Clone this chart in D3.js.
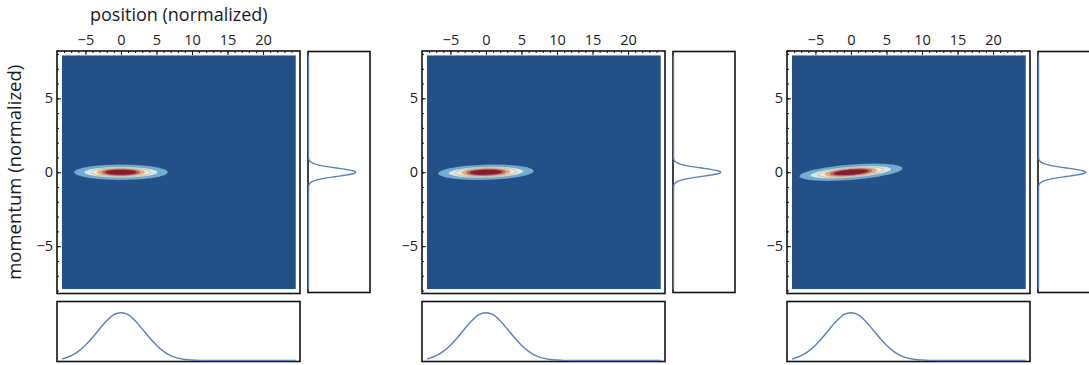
<!DOCTYPE html>
<html><head><meta charset="utf-8">
<script src="https://cdn.jsdelivr.net/npm/d3@7"></script>
<style>
body{margin:0;background:#fff}
svg{display:block}
text{font-family:"Open Sans",sans-serif;fill:#1a1a1a}
</style>
</head><body>
<svg id="chart" width="1089" height="365"></svg>
<script>
// ---------- data ----------
const panels = ["snapshot 1", "snapshot 2", "snapshot 3"];
const xTickValues = [-5, 0, 5, 10, 15, 20];
const yTickValues = [-5, 0, 5];
const xMinorTicks = [-8,-7,-6,-5,-4,-3,-2,-1,0,1,2,3,4,5,6,7,8,9,10,11,12,13,14,15,16,17,18,19,20,21,22,23,24];
const yMinorTicks = [-8,-7,-6,-5,-4,-3,-2,-1,0,1,2,3,4,5,6,7,8];
const axisTitleX = "position (normalized)";
const axisTitleY = "momentum (normalized)";

// position marginal (bottom panels)
const positionGrid    = [-8.3, -7, -6, -5, -4, -3, -2, -1, 0, 1, 2, 3, 4, 5, 6, 7, 8, 9, 10, 11, 12, 24.6];
const positionDensity = [0.03, 0.10, 0.19, 0.32, 0.48, 0.66, 0.83, 0.96, 1.00, 0.96, 0.83, 0.66, 0.48, 0.32, 0.19, 0.10, 0.05, 0.02, 0.01, 0.003, 0, 0];

// momentum marginal (right panels)
const momentumGrid    = [-7.9, -1.2, -1.0, -0.9, -0.8, -0.7, -0.6, -0.5, -0.4, -0.3, -0.2, -0.1, 0, 0.1, 0.2, 0.3, 0.4, 0.5, 0.6, 0.7, 0.8, 0.9, 1.0, 1.2, 7.9];
const momentumDensity = [0, 0, 0.002, 0.006, 0.017, 0.044, 0.10, 0.20, 0.36, 0.56, 0.775, 0.94, 1.0, 0.94, 0.775, 0.56, 0.36, 0.20, 0.10, 0.044, 0.017, 0.006, 0.002, 0, 0];

// contour bands, outer to inner: half-width in position, half-height in momentum
const contourHalfWidth  = [6.6, 5.2, 4.2, 3.3, 2.7, 2.2];
const contourHalfHeight = [0.52, 0.38, 0.31, 0.25, 0.21, 0.17];
// per-panel tilt (momentum per position) and width factor
const panelShear      = [0, 0.012, 0.037];
const panelWidthScale = [1, 1.02, 1.1];

// ---------- styles ----------
const fieldColor = "#245089";
const bandColors = ["#6fafd6", "#d4e9ef", "#f3e7c3", "#e7ae87", "#c9665a", "#8c1b31"];
const curveColor = "#5b80bd";

// ---------- layout ----------
const panelStep = 365;
const frame = {left: 57, right: 300, top: 51, bottom: 293.5};
const rightBox = {left: 308, right: 370, top: 51.5, bottom: 292.5};
const bottomBox = {left: 57, right: 300, top: 301.5, bottom: 361.5};

const svg = d3.select("#chart");

const x = d3.scaleLinear().domain([-9, 25.2]).range([frame.left, frame.right]);
const y = d3.scaleLinear().domain([-8.2, 8.2]).range([frame.bottom, frame.top]);
const yB = d3.scaleLinear().domain([0, 1.234]).range([360.5, bottomBox.top]);
const xR = d3.scaleLinear().domain([0, 1.3]).range([308.5, rightBox.right]);

const defs = svg.append("defs");
defs.append("clipPath").attr("id", "clipField")
  .append("rect").attr("x", x(-8.3)).attr("y", y(7.9))
  .attr("width", x(24.6) - x(-8.3)).attr("height", y(-7.9) - y(7.9));
defs.append("clipPath").attr("id", "clipBottom")
  .append("rect").attr("x", bottomBox.left).attr("y", bottomBox.top)
  .attr("width", bottomBox.right - bottomBox.left).attr("height", bottomBox.bottom - bottomBox.top);
defs.append("clipPath").attr("id", "clipRight")
  .append("rect").attr("x", rightBox.left).attr("y", rightBox.top)
  .attr("width", rightBox.right - rightBox.left).attr("height", rightBox.bottom - rightBox.top);

panels.forEach((name, pi) => {
  const g = svg.append("g").attr("transform", `translate(${pi * panelStep},0)`);

  // field background
  g.append("rect")
    .attr("x", x(-8.3)).attr("y", y(7.9))
    .attr("width", x(24.6) - x(-8.3)).attr("height", y(-7.9) - y(7.9))
    .attr("fill", fieldColor);

  // contour bands
  const cg = g.append("g").attr("clip-path", "url(#clipField)");
  const k = panelShear[pi], ws = panelWidthScale[pi];
  contourHalfWidth.forEach((a0, i) => {
    const a = a0 * ws, b = contourHalfHeight[i];
    const pts = d3.range(0, 73).map(j => {
      const t = j / 72 * 2 * Math.PI;
      const xd = a * Math.cos(t);
      const pd = b * Math.sin(t) + k * xd;
      return [x(xd), y(pd)];
    });
    cg.append("path")
      .attr("d", d3.line().curve(d3.curveLinearClosed)(pts))
      .attr("fill", bandColors[i])
      .attr("stroke", "rgba(70,70,70,0.35)")
      .attr("stroke-width", 0.6);
  });

  // frame
  g.append("rect")
    .attr("x", frame.left).attr("y", frame.top)
    .attr("width", frame.right - frame.left).attr("height", frame.bottom - frame.top)
    .attr("fill", "none").attr("stroke", "#111").attr("stroke-width", 1.6);

  // top axis
  const topMajor = d3.axisTop(x).tickValues(xTickValues).tickSizeInner(-4).tickSizeOuter(0).tickPadding(6);
  const ta = g.append("g").attr("transform", `translate(0,${frame.top})`).call(topMajor);
  ta.select(".domain").remove();
  ta.selectAll("line").attr("stroke", "#111").attr("stroke-width", 1);
  ta.selectAll("text").attr("font-size", 14.5).style("font-family", "'Open Sans',sans-serif").attr("fill", "#1a1a1a");
  const topMinor = d3.axisTop(x).tickValues(xMinorTicks).tickSizeInner(-2).tickSizeOuter(0).tickFormat("");
  const tm = g.append("g").attr("transform", `translate(0,${frame.top})`).call(topMinor);
  tm.select(".domain").remove();
  tm.selectAll("line").attr("stroke", "#111").attr("stroke-width", 1);

  // left axis
  const leftMajor = d3.axisLeft(y).tickValues(yTickValues).tickSizeInner(-4).tickSizeOuter(0).tickPadding(4);
  const la = g.append("g").attr("transform", `translate(${frame.left},0)`).call(leftMajor);
  la.select(".domain").remove();
  la.selectAll("line").attr("stroke", "#111").attr("stroke-width", 1);
  la.selectAll("text").attr("font-size", 14.5).style("font-family", "'Open Sans',sans-serif").attr("fill", "#1a1a1a");
  const leftMinor = d3.axisLeft(y).tickValues(yMinorTicks).tickSizeInner(-2).tickSizeOuter(0).tickFormat("");
  const lm = g.append("g").attr("transform", `translate(${frame.left},0)`).call(leftMinor);
  lm.select(".domain").remove();
  lm.selectAll("line").attr("stroke", "#111").attr("stroke-width", 1);

  // right marginal (momentum)
  g.append("rect")
    .attr("x", rightBox.left).attr("y", rightBox.top)
    .attr("width", rightBox.right - rightBox.left).attr("height", rightBox.bottom - rightBox.top)
    .attr("fill", "#fff").attr("stroke", "#111").attr("stroke-width", 1.6);
  const momPts = momentumGrid.map((p, i) => [xR(momentumDensity[i]), y(p)]);
  g.append("path")
    .attr("clip-path", "url(#clipRight)")
    .attr("d", d3.line().curve(d3.curveMonotoneY)(momPts))
    .attr("fill", "none").attr("stroke", curveColor).attr("stroke-width", 1.4);

  // bottom marginal (position)
  g.append("rect")
    .attr("x", bottomBox.left).attr("y", bottomBox.top)
    .attr("width", bottomBox.right - bottomBox.left).attr("height", bottomBox.bottom - bottomBox.top)
    .attr("fill", "#fff").attr("stroke", "#111").attr("stroke-width", 1.6);
  const posPts = positionGrid.map((v, i) => [x(v), yB(positionDensity[i])]);
  g.append("path")
    .attr("clip-path", "url(#clipBottom)")
    .attr("d", d3.line().curve(d3.curveMonotoneX)(posPts))
    .attr("fill", "none").attr("stroke", curveColor).attr("stroke-width", 1.4);

  if (pi === 0) {
    g.append("text")
      .attr("x", (x(-8.3) + x(24.6)) / 2).attr("y", 21)
      .attr("text-anchor", "middle").attr("font-size", 18)
      .text(axisTitleX);
    g.append("text")
      .attr("transform", `translate(21,${y(0)}) rotate(-90)`)
      .attr("text-anchor", "middle").attr("font-size", 18.5)
      .text(axisTitleY);
  }
});
</script>
</body></html>
